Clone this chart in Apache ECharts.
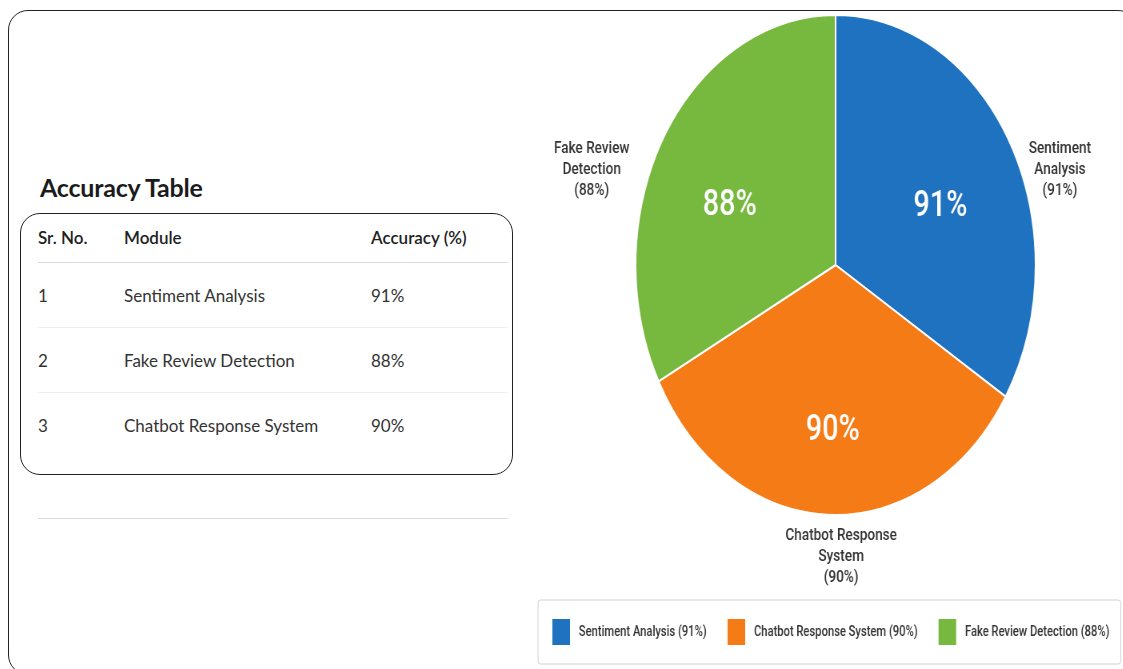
<!DOCTYPE html>
<html>
<head>
<meta charset="utf-8">
<script src="https://cdn.jsdelivr.net/npm/echarts@6/dist/echarts.min.js"></script>
<style>
  html, body { margin: 0; padding: 0; background: #fff; }
  body { width: 1123px; height: 669px; position: relative; overflow: hidden; font-family: Lato, "Open Sans", sans-serif; }
  .frame { position: absolute; left: 8px; top: 10px; width: 1130px; height: 665px; border: 1.5px solid #222; border-radius: 20px; box-sizing: border-box; }
  .title { position: absolute; left: 40px; top: 170px; font-size: 25px; font-weight: 700; color: #1b1b1b; line-height: 34px; letter-spacing: -0.2px; }
  .tbox { position: absolute; left: 20px; top: 213px; width: 493px; height: 262px; border: 1.5px solid #222; border-radius: 20px; box-sizing: border-box; }
  .cell { position: absolute; font-size: 17px; color: #333; line-height: 24px; white-space: nowrap; }
  .head { color: #222; font-weight: 600; }
  .rule { position: absolute; left: 38px; width: 470px; height: 1px; background: #e6e6e6; }
  #chart { position: absolute; left: 530px; top: 0; width: 790px; height: 669px; transform: scaleX(0.8); transform-origin: 0 0; }
</style>
</head>
<body>
<div class="frame"></div>
<div class="title">Accuracy Table</div>
<div class="tbox"></div>
<div id="table"></div>
<div id="chart"></div>
<script>
// table data (order as listed in the table)
var tableHeads = ['Sr. No.', 'Module', 'Accuracy (%)'];
var modules = ['Sentiment Analysis', 'Fake Review Detection', 'Chatbot Response System'];
var accuracy = [91, 88, 90];

// pie data (clockwise from 12 o'clock)
var pieNames = ['Sentiment Analysis', 'Chatbot Response System', 'Fake Review Detection'];
var pieValues = [91, 90, 88];
var pieLabels = ['Sentiment\nAnalysis', 'Chatbot Response\nSystem', 'Fake Review\nDetection'];
var pieColors = ['#1f72bf', '#f57b17', '#77b83f'];

// ---- table ----
var colX = [38, 124, 371];
var tbl = document.getElementById('table');
var html = '';
tableHeads.forEach(function (h, i) {
    html += '<div class="cell head" style="left:' + colX[i] + 'px;top:226px">' + h + '</div>';
});
html += '<div class="rule" style="top:262px;background:#dcdcdc"></div>';
modules.forEach(function (m, r) {
    var top = 284 + r * 65;
    html += '<div class="cell" style="left:' + colX[0] + 'px;top:' + top + 'px">' + (r + 1) + '</div>';
    html += '<div class="cell" style="left:' + colX[1] + 'px;top:' + top + 'px">' + m + '</div>';
    html += '<div class="cell" style="left:' + colX[2] + 'px;top:' + top + 'px">' + accuracy[r] + '%</div>';
    if (r < modules.length - 1) {
        html += '<div class="rule" style="top:' + (327 + r * 65) + 'px;background:#efefef"></div>';
    }
});
html += '<div class="rule" style="top:518px;background:#dcdcdc"></div>';
tbl.innerHTML = html;

// ---- pie ----
var chart = echarts.init(document.getElementById('chart'));
var pieData = pieNames.map(function (n, i) {
    return { name: n, value: pieValues[i], itemStyle: { color: pieColors[i] } };
});
// label nudges (chart px, before the horizontal squash)
var outerNudge = [[50, 30], [21, 34], [-79, 38]];
var innerNudge = [[-7, 19], [2, 8], [3, 23]];

chart.setOption({
    animation: false,
    textStyle: { fontFamily: 'Roboto' },
    legend: {
        left: 10,
        top: 600,
        orient: 'horizontal',
        itemWidth: 24,
        itemHeight: 28,
        itemGap: 24,
        padding: [17, 14, 17, 16],
        borderColor: '#cfcfcf',
        borderWidth: 1,
        borderRadius: 3,
        backgroundColor: '#fff',
        selectedMode: false,
        icon: 'rect',
        data: pieNames,
        formatter: function (name) {
            return name + ' (' + pieValues[pieNames.indexOf(name)] + '%)';
        },
        textStyle: { fontSize: 14, fontWeight: 500, color: '#333', padding: [0, 0, 0, 5] }
    },
    series: [
        {
            type: 'pie',
            center: [382, 265],
            radius: 250,
            startAngle: 90,
            silent: true,
            data: pieData,
            itemStyle: { borderColor: '#fff', borderWidth: 2 },
            label: {
                position: 'outside',
                fontSize: 17,
                fontWeight: 500,
                lineHeight: 21,
                color: '#333',
                formatter: function (p) {
                    return pieLabels[p.dataIndex] + '\n(' + p.value + '%)';
                }
            },
            labelLine: { show: false, length: 8, length2: 0 },
            labelLayout: function (p) {
                return { align: 'center', dx: outerNudge[p.dataIndex][0], dy: outerNudge[p.dataIndex][1] };
            }
        },
        {
            type: 'pie',
            center: [382, 265],
            radius: 310,
            startAngle: 90,
            silent: true,
            data: pieNames.map(function (n, i) {
                return { name: n, value: pieValues[i], itemStyle: { color: 'rgba(0,0,0,0)' } };
            }),
            label: {
                position: 'inside',
                fontSize: 36,
                fontWeight: 500,
                color: '#fff',
                formatter: '{c}%'
            },
            labelLine: { show: false },
            labelLayout: function (p) {
                return { dx: innerNudge[p.dataIndex][0], dy: innerNudge[p.dataIndex][1] };
            }
        }
    ]
});
</script>
</body>
</html>
